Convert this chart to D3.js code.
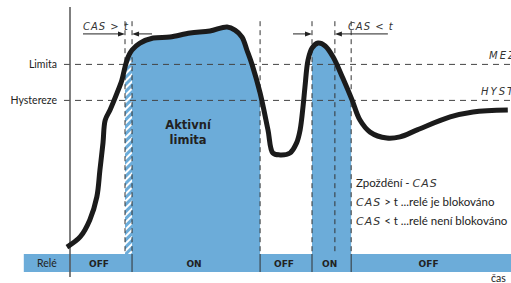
<!DOCTYPE html>
<html>
<head>
<meta charset="utf-8">
<script src="https://cdn.jsdelivr.net/npm/d3@7"></script>
<style>
  body { margin: 0; background: #fff; overflow: hidden; }
  svg { display: block; }
  .lbl { font-family: Lato, "DejaVu Sans", sans-serif; fill: #222; }
  .bold { font-family: "DejaVu Sans", sans-serif; font-weight: 700; fill: #222; }
  .seg { font-family: "DejaVu Sans", sans-serif; font-style: italic; font-weight: 200; fill: #333; }
</style>
</head>
<body>
<div class="container"></div>
<script>
const WIDTH = 511;
const HEIGHT = 283;

// time (0 = axis) and signal value (0 = relay bar top)
var timeVals = [-0.7, 2.3, 4.5, 6.1, 6.8, 7.5, 8.0, 9.1, 10.7, 11.8, 12.5, 13.2, 14.1, 15.9, 18.9, 22.7, 27.3, 31.8, 35.7, 37.5, 39.1, 40.2, 41.4, 43.2, 45.0, 46.1, 47.7, 50.0, 51.5, 52.3, 53.0, 53.4, 54.1, 55.0, 56.4, 58.0, 59.8, 62.0, 64.1, 65.9, 68.2, 72.0, 75.0, 78.9, 86.4, 91.6, 99.5];
var signalVals = [2.9, 7.1, 14.2, 23.8, 35.0, 46.3, 55.8, 60.0, 67.1, 72.5, 77.9, 82.1, 85.0, 87.9, 90.0, 90.4, 92.1, 92.9, 94.6, 93.3, 90.4, 85.0, 78.8, 67.1, 51.7, 42.1, 41.3, 42.1, 46.3, 51.7, 62.1, 69.6, 80.8, 85.8, 87.9, 86.7, 82.1, 73.3, 64.2, 55.8, 50.8, 48.3, 48.8, 51.7, 57.1, 59.2, 60.0];

var levelVals = [79, 64];
var levelLabels = ['Limita', 'Hystereze'];
var levelCodes = ['MEZ', 'HYST'];

var relayBounds = [-10.5, 0, 14.1, 43.2, 55.0, 63.9, 100];
var relayLabels = ['Relé', 'OFF', 'ON', 'OFF', 'ON', 'OFF'];

var activeSpans = [[14.1, 43.2], [55.0, 63.9]];
var blockedSpan = [12.5, 14.1];
var markerTimes = [12.5, 14.1, 43.2, 55.0, 60.2, 63.9];

var delayFrom = [12.5, 55.0];
var delayTo = [14.1, 60.2];
var delayLabels = ['CAS > t', 'CAS < t'];

var noteLines = [['Zpoždění - ', 'CAS', ''], ['', 'CAS', ' > t ...relé je blokováno'], ['', 'CAS', ' < t ...relé není blokováno']];

var BLUE = '#6cacd9';

var svg = d3.select('.container').append('svg')
  .attr('width', WIDTH)
  .attr('height', HEIGHT);

var x = d3.scaleLinear().domain([0, 100]).range([70, 510]);
var y = d3.scaleLinear().domain([0, 100]).range([254, 14]);

var pts = timeVals.map(function (t, i) { return {t: t, v: signalVals[i]}; });

var defs = svg.append('defs');
var pat = defs.append('pattern')
  .attr('id', 'hatch')
  .attr('patternUnits', 'userSpaceOnUse')
  .attr('width', 5).attr('height', 5)
  .attr('patternTransform', 'rotate(-45)');
pat.append('rect').attr('width', 5).attr('height', 5).attr('fill', BLUE);
pat.append('rect').attr('width', 5).attr('height', 2).attr('fill', '#fff');

var clip = defs.append('clipPath').attr('id', 'active');
activeSpans.forEach(function (s) {
  clip.append('rect')
    .attr('x', x(s[0])).attr('y', 0)
    .attr('width', x(s[1]) - x(s[0])).attr('height', y(0));
});
defs.append('clipPath').attr('id', 'blocked').append('rect')
  .attr('x', x(blockedSpan[0])).attr('y', 0)
  .attr('width', x(blockedSpan[1]) - x(blockedSpan[0])).attr('height', y(0));

var area = d3.area()
  .curve(d3.curveCatmullRom)
  .x(function (d) { return x(d.t); })
  .y0(y(0))
  .y1(function (d) { return y(d.v); });

svg.append('path').attr('d', area(pts)).attr('fill', BLUE).attr('clip-path', 'url(#active)');
svg.append('path').attr('d', area(pts)).attr('fill', 'url(#hatch)').attr('clip-path', 'url(#blocked)');

// relay bar
var barH = 18;
svg.append('rect')
  .attr('x', x(relayBounds[0])).attr('y', y(0))
  .attr('width', WIDTH - x(relayBounds[0])).attr('height', barH)
  .attr('fill', BLUE);
relayBounds.slice(2, -1).forEach(function (b) {
  svg.append('line')
    .attr('x1', x(b)).attr('x2', x(b))
    .attr('y1', y(0)).attr('y2', y(0) + barH)
    .attr('stroke', '#333').attr('stroke-width', 1);
});
relayLabels.forEach(function (l, i) {
  svg.append('text').attr('class', i === 0 ? 'lbl' : 'bold')
    .attr('x', (x(relayBounds[i]) + x(relayBounds[i + 1])) / 2 - (i === 0 ? 0 : 2))
    .attr('y', y(0) + 13)
    .attr('text-anchor', 'middle')
    .attr('font-size', i === 0 ? 10.5 : 9)
    .text(l);
});

// level lines
levelVals.forEach(function (v, i) {
  svg.append('line')
    .attr('x1', 64).attr('x2', WIDTH)
    .attr('y1', y(v)).attr('y2', y(v))
    .attr('stroke', '#444').attr('stroke-width', 1)
    .attr('stroke-dasharray', '6,5');
  svg.append('text').attr('class', 'lbl')
    .attr('x', 57).attr('y', y(v) + 3.5)
    .attr('text-anchor', 'end').attr('font-size', 10.5)
    .text(levelLabels[i]);
  svg.append('text').attr('class', 'seg')
    .attr('x', i === 0 ? 489 : 481).attr('y', y(v) - 5)
    .attr('font-size', 10).attr('letter-spacing', 2)
    .text(levelCodes[i]);
});

// marker verticals
markerTimes.forEach(function (t) {
  svg.append('line')
    .attr('x1', x(t)).attr('x2', x(t))
    .attr('y1', y(97)).attr('y2', y(0))
    .attr('stroke', '#333').attr('stroke-width', 1)
    .attr('stroke-dasharray', '5,4');
});

// delay arrows
var arrowY = y(91.7);
function arrow(x1, x2) {
  var dir = x2 > x1 ? 1 : -1;
  svg.append('line')
    .attr('x1', x1).attr('x2', x2 - dir * 5)
    .attr('y1', arrowY).attr('y2', arrowY)
    .attr('stroke', '#222').attr('stroke-width', 1);
  svg.append('path')
    .attr('d', 'M' + x2 + ',' + arrowY + 'L' + (x2 - dir * 7) + ',' + (arrowY - 2.5) + 'L' + (x2 - dir * 7) + ',' + (arrowY + 2.5) + 'Z')
    .attr('fill', '#222');
}
arrow(x(delayFrom[0]) - 42, x(delayFrom[0]));
arrow(x(delayTo[0]) + 20, x(delayTo[0]));
arrow(x(delayFrom[1]) - 19, x(delayFrom[1]));
arrow(x(delayTo[1]) + 53, x(delayTo[1]));

svg.append('text').attr('class', 'seg')
  .attr('x', x(delayFrom[0]) - 42).attr('y', y(93.5))
  .attr('font-size', 10).attr('letter-spacing', 1)
  .text(delayLabels[0]);
svg.append('text').attr('class', 'seg')
  .attr('x', x(delayTo[1]) + 13).attr('y', y(93.5))
  .attr('font-size', 10).attr('letter-spacing', 1)
  .text(delayLabels[1]);

// axis
svg.append('line')
  .attr('x1', x(0)).attr('x2', x(0))
  .attr('y1', 7).attr('y2', 277)
  .attr('stroke', '#555').attr('stroke-width', 1.5);

// signal
var line = d3.line()
  .curve(d3.curveCatmullRom)
  .x(function (d) { return x(d.t); })
  .y(function (d) { return y(d.v); });
svg.append('path')
  .attr('d', line(pts))
  .attr('fill', 'none')
  .attr('stroke', '#1b1b1b')
  .attr('stroke-width', 5)
  .attr('stroke-linejoin', 'round');

// center label
var mid = (x(activeSpans[0][0]) + x(activeSpans[0][1])) / 2 - 8;
['Aktivní', 'limita'].forEach(function (w, i) {
  svg.append('text').attr('class', 'bold')
    .attr('x', mid).attr('y', 129 + i * 15)
    .attr('text-anchor', 'middle')
    .attr('font-size', 11.5)
    .text(w);
});

// notes
noteLines.forEach(function (parts, i) {
  var t = svg.append('text').attr('class', 'lbl')
    .attr('x', 356).attr('y', 187 + i * 19)
    .attr('font-size', 11.5);
  t.append('tspan').text(parts[0]);
  t.append('tspan').attr('class', 'seg').attr('font-size', 11).attr('letter-spacing', 1).text(parts[1]);
  t.append('tspan').text(parts[2]);
});

svg.append('text').attr('class', 'lbl')
  .attr('x', 491).attr('y', 282)
  .attr('font-size', 10.5)
  .text('čas');
</script>
</body>
</html>
